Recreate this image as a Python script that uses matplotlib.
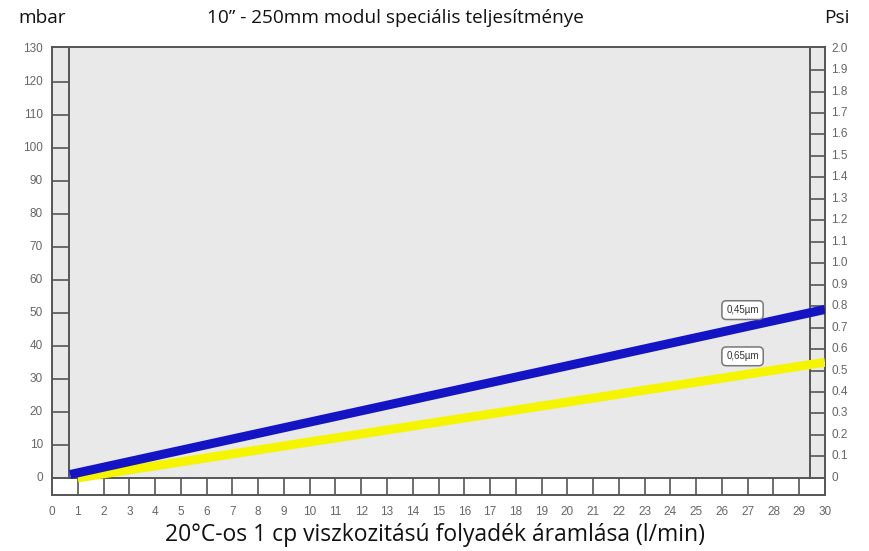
import numpy as np
import matplotlib.pyplot as plt

## DATA
flow = [0.7, 30]
mbar_045 = [1, 51]
flow_065 = [1, 30]
mbar_065 = [0, 35]
labels = ['0,45µm', '0,65µm']
label_pos = [(26.8, 50.8), (26.8, 36.8)]
x_ticks = np.arange(0, 31)
left_ticks = np.arange(0, 131, 10)
right_ticks = np.round(np.arange(0, 2.01, 0.1), 1)
psi_scale = 65.0  # 2.0 psi drawn at 130 mbar

fig = plt.figure(figsize=(8.69, 5.51), dpi=100)
ax = fig.add_axes([52/869, 1-495/551, 773/869, 448/551])
x0, x1 = 0, 30
y0, y1 = -5.2, 130.5
ax.set_xlim(x0, x1)
ax.set_ylim(y0, y1)
ax.set_facecolor('#e9e9e9')
for s in ax.spines.values():
    s.set_color('#555555')
    s.set_linewidth(1.4)
ax.set_xticks([]); ax.set_yticks([])

lx, rx = 0.65, 29.4
# bottom strip (white) with ticks
ax.fill_between([x0, x1], y0, 0, color='white', zorder=1)
ax.plot([x0, x1], [0, 0], color='#555555', lw=1.4, zorder=2)
ax.plot([lx, lx], [0, y1], color='#555555', lw=1.4, zorder=2)
ax.plot([rx, rx], [0, y1], color='#555555', lw=1.4, zorder=2)
for xt in x_ticks[1:-1]:
    ax.plot([xt, xt], [y0, 0], color='#555555', lw=1.2, zorder=2)
for yt in left_ticks[1:-1]:
    ax.plot([x0, lx], [yt, yt], color='#555555', lw=1.2, zorder=2)
for pt in right_ticks[1:-1]:
    ax.plot([rx, x1], [pt*psi_scale, pt*psi_scale], color='#555555', lw=1.2, zorder=2)

# lines
ax.plot(flow_065, mbar_065, color='#f5f500', lw=6.5, solid_capstyle='butt', zorder=3)
ax.plot(flow, mbar_045, color='#1414c4', lw=6.5, solid_capstyle='butt', zorder=4)

for lab, (lxp, lyp) in zip(labels, label_pos):
    ax.text(lxp, lyp, lab, fontsize=7, ha='center', va='center', color='#333333', zorder=5,
            family='Liberation Sans',
            bbox=dict(boxstyle='round,pad=0.45', fc='white', ec='#777777', lw=1.1))

# tick labels
tick_font = dict(fontsize=8.5, color='#666666', family='Liberation Sans')
for xt in x_ticks:
    ax.text(xt, y0 - 3.3, str(xt), ha='center', va='top', **tick_font)
for yt in left_ticks:
    ax.text(x0 - 0.35, yt, str(yt), ha='right', va='center', **tick_font)
for pt in right_ticks:
    ax.text(x1 + 0.25, pt*psi_scale, '%.1f' % pt if pt > 0 else '0', ha='left', va='center', **tick_font)

fig.text(18/869, 1-18/551, 'mbar', ha='left', va='center', fontsize=13.7, color='#111111', family='Open Sans')
fig.text(395/869, 1-18/551, '10” - 250mm modul speciális teljesítménye', ha='center', va='center',
         fontsize=13.7, color='#111111', family='Open Sans')
fig.text(850/869, 1-18/551, 'Psi', ha='right', va='center', fontsize=13.7, color='#111111', family='Open Sans')
fig.text(435/869, 1-535/551, '20°C-os 1 cp viszkozitású folyadék áramlása (l/min)', ha='center', va='center',
         fontsize=16.5, color='#111111', family='Open Sans')

fig.savefig('out.png', dpi=100)
